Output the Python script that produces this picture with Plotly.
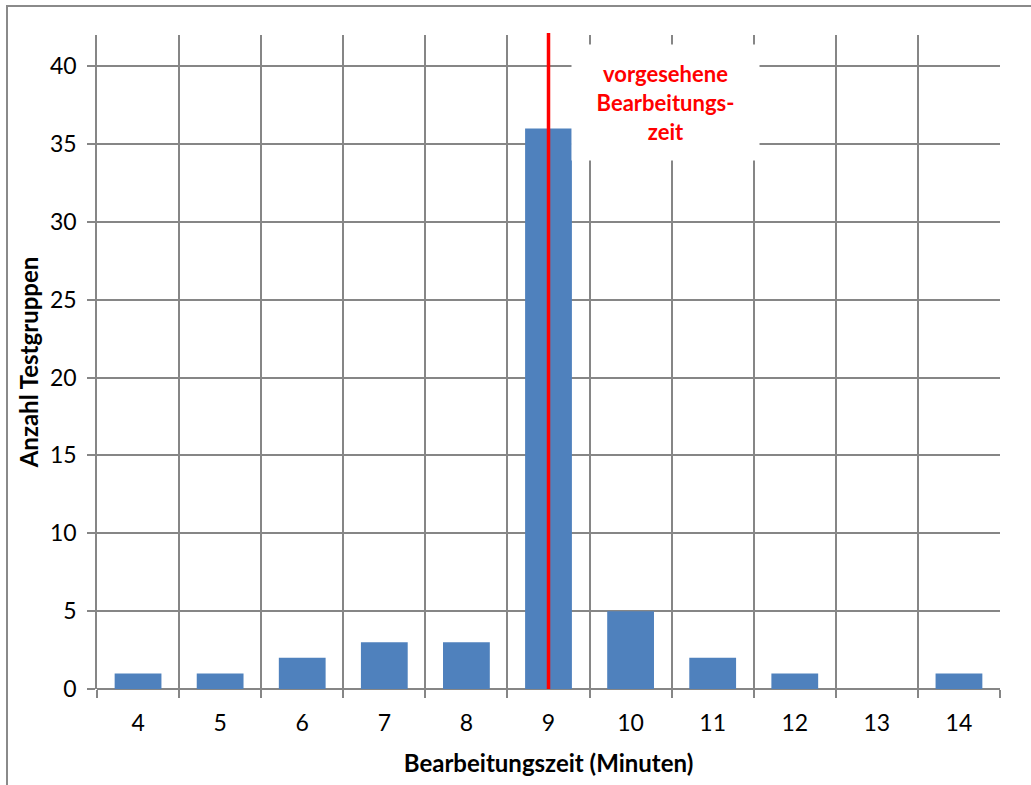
import plotly.graph_objects as go

minutes = [4, 5, 6, 7, 8, 9, 10, 11, 12, 13, 14]
groups = [1, 1, 2, 3, 3, 36, 5, 2, 1, 0, 1]
planned_time = 9
y_ticks = [0, 5, 10, 15, 20, 25, 30, 35, 40]
note_text = "vorgesehene<br>Bearbeitungs-<br>zeit"

FONT = "Lato"
GRID = "#868686"

fig = go.Figure()
fig.add_trace(go.Bar(x=minutes, y=groups, width=0.57,
                     marker=dict(color="#4f81bd", line=dict(width=0))))

fig.update_layout(
    width=1031, height=785,
    margin=dict(l=97, r=31, t=35, b=96),
    paper_bgcolor="white", plot_bgcolor="white",
    font=dict(family=FONT, size=23, color="black"),
    showlegend=False,
)
bounds = [m - 0.5 for m in minutes] + [minutes[-1] + 0.5]
fig.update_xaxes(
    range=[minutes[0] - 0.5, minutes[-1] + 0.5],
    tickvals=minutes, ticktext=[str(m) for m in minutes],
    ticks="", showgrid=False, showline=False, zeroline=False,
    tickfont=dict(size=23), ticklabelstandoff=18,
    minor=dict(tickvals=bounds, showgrid=True, gridcolor=GRID, gridwidth=1.5,
               ticks="outside", ticklen=8, tickcolor=GRID, tickwidth=1.5),
    title=dict(text="<b>Bearbeitungszeit (Minuten)</b>", font=dict(size=24), standoff=20),
)
fig.update_yaxes(
    range=[0, 42], tickvals=y_ticks,
    showgrid=True, gridcolor=GRID, gridwidth=1.5,
    ticks="outside", ticklen=8, tickcolor=GRID, tickwidth=1.5,
    showline=True, linecolor=GRID, linewidth=1.5,
    zeroline=True, zerolinecolor=GRID, zerolinewidth=1.5,
    tickfont=dict(size=23), ticklabelstandoff=6,
    title=dict(text="<b>Anzahl Testgruppen</b>", font=dict(size=24), standoff=5),
)

# red line for planned time
fig.add_shape(type="line", xref="x", yref="paper", x0=planned_time, x1=planned_time,
              y0=0, y1=1.003, line=dict(color="#ff0000", width=3.5), layer="above")

# outer chart border (cropped at right/bottom)
fig.add_shape(type="rect", xref="paper", yref="paper",
              x0=(7 - 97) / 903, x1=(1060 - 97) / 903,
              y0=(689 - 820) / 654, y1=(689 - 6) / 654,
              line=dict(color="#8a8a8a", width=2), fillcolor="rgba(0,0,0,0)", layer="below")

fig.add_annotation(
    xref="paper", yref="paper", x=(665.5 - 97) / 903, y=(689 - 105.5) / 654,
    xanchor="center", yanchor="middle", showarrow=False,
    text="<b>" + note_text + "</b>", align="center",
    font=dict(family=FONT, size=22, color="#ff0000"),
    bgcolor="white", width=185, height=113, yshift=3,
)

fig.write_html("out.html")
